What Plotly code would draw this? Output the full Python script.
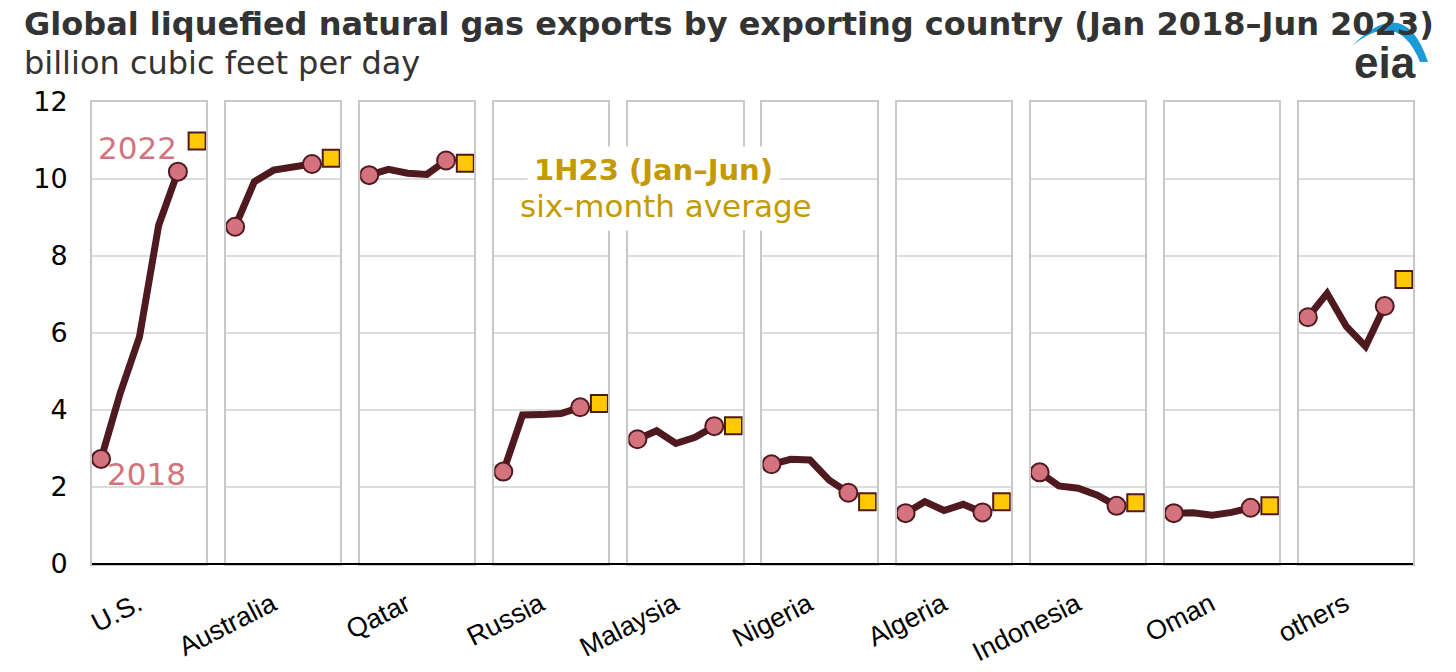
from plotly.subplots import make_subplots
import plotly.graph_objects as go

# --------------------- Data (billion cubic feet per day)
countries = ['U.S.', 'Australia', 'Qatar', 'Russia', 'Malaysia',
             'Nigeria', 'Algeria', 'Indonesia', 'Oman', 'others']
years = ['2018', '2019', '2020', '2021', '2022']

us = [2.73, 4.44, 5.90, 8.80, 10.19]
australia = [8.76, 9.93, 10.23, 10.32, 10.39]
qatar = [10.10, 10.25, 10.15, 10.12, 10.48]
russia = [2.40, 3.87, 3.88, 3.91, 4.07]
malaysia = [3.24, 3.46, 3.13, 3.29, 3.58]
nigeria = [2.59, 2.72, 2.70, 2.18, 1.85]
algeria = [1.32, 1.62, 1.39, 1.55, 1.34]
indonesia = [2.38, 2.03, 1.97, 1.79, 1.51]
oman = [1.32, 1.33, 1.27, 1.34, 1.46]
others = [6.41, 7.03, 6.17, 5.65, 6.70]

annual = [us, australia, qatar, russia, malaysia,
          nigeria, algeria, indonesia, oman, others]

# 1H23 (Jan-Jun) six-month average
h1_2023 = [10.99, 10.54, 10.41, 4.17, 3.59, 1.62, 1.62, 1.59, 1.51, 7.39]

# --------------------- Styles
line_color = '#4f1a1f'
pink = '#d4737e'
gold_fill = '#ffc800'
gold_text = '#c49a00'
panel_color = '#c8c8c8'
grid_color = '#dcdcdc'

n = len(countries)
gap = 0.0151

fig = make_subplots(rows=1, cols=n, shared_yaxes=True, horizontal_spacing=gap)

pos = list(range(len(years)))

for i in range(n):
    col = i + 1
    vals = annual[i]

    # Annual line
    fig.add_trace(go.Scatter(x=pos, y=vals, mode='lines',
                             line=dict(color=line_color, width=7),
                             hoverinfo='skip', showlegend=False),
                  row=1, col=col)

    # Circles at first and last year
    fig.add_trace(go.Scatter(x=[pos[0], pos[-1]], y=[vals[0], vals[-1]],
                             mode='markers',
                             marker=dict(symbol='circle', size=18, color=pink,
                                         line=dict(color=line_color, width=2)),
                             text=[years[0], years[-1]],
                             hovertemplate=countries[i] + ' %{text}: %{y}<extra></extra>',
                             showlegend=False),
                  row=1, col=col)

    # 1H23 square
    fig.add_trace(go.Scatter(x=[len(years)], y=[h1_2023[i]], mode='markers',
                             marker=dict(symbol='square', size=17, color=gold_fill,
                                         line=dict(color=line_color, width=2)),
                             hovertemplate=countries[i] + ' 1H23: %{y}<extra></extra>',
                             showlegend=False),
                  row=1, col=col)

    fig.update_xaxes(range=[-0.47, len(years) + 0.47],
                     tickvals=[2.5], ticktext=[countries[i]],
                     tickangle=-27, ticks='', ticklabelstandoff=12,
                     ticklabelshift=-11,
                     tickfont=dict(family='Liberation Sans', size=27, color='#000000'),
                     showgrid=False, zeroline=False, automargin=False,
                     showline=True, mirror=True, linecolor=panel_color, linewidth=2,
                     fixedrange=True, row=1, col=col)
    fig.update_yaxes(range=[0, 12], dtick=2, automargin=False,
                     showgrid=True, gridcolor=grid_color, gridwidth=1.5,
                     zeroline=False, showline=True, mirror=True,
                     linecolor=panel_color, linewidth=2,
                     fixedrange=True, row=1, col=col)

fig.update_yaxes(tickfont=dict(family='DejaVu Sans', size=27, color='#000000'),
                 ticks='', ticklabelstandoff=17, row=1, col=1)

# Black baseline across all panels
fig.add_shape(type='line', xref='paper', yref='paper', x0=0, x1=1, y0=0, y1=0,
              line=dict(color='#000000', width=2))


# Plot area on screen is 92..1413 x 102..564 px
def px_to_paper(px, py):
    return (px - 92) / 1321, (564 - py) / 462


# Year labels on the U.S. panel
fig.add_annotation(x=1.92, y=10.8, xref='x', yref='y', text='2022', showarrow=False,
                   font=dict(family='DejaVu Sans', size=31, color=pink))
fig.add_annotation(x=2.34, y=2.34, xref='x', yref='y', text='2018', showarrow=False,
                   font=dict(family='DejaVu Sans', size=31, color=pink))

# 1H23 label (two lines, white background)
ax, ay = px_to_paper(666, 206)
fig.add_annotation(x=ax, y=ay, xref='paper', yref='paper',
                   xanchor='center', yanchor='middle',
                   text='six-month average',
                   showarrow=False, bgcolor='#ffffff', borderpad=6,
                   font=dict(family='DejaVu Sans', size=31, color=gold_text))
bx, by = px_to_paper(653, 170)
fig.add_annotation(x=bx, y=by, xref='paper', yref='paper',
                   xanchor='center', yanchor='middle',
                   text='<b>1H23 (Jan–Jun)</b>',
                   showarrow=False, bgcolor='#ffffff', borderpad=6,
                   font=dict(family='DejaVu Sans', size=29, color=gold_text))

# Title and subtitle
tx, ty = px_to_paper(22, 24)
fig.add_annotation(x=tx, y=ty, xref='paper', yref='paper',
                   xanchor='left', yanchor='middle', showarrow=False,
                   text='<b>Global liquefied natural gas exports by exporting country (Jan 2018–Jun 2023)</b>',
                   font=dict(family='DejaVu Sans', size=32, color='#333333'))
sx, sy = px_to_paper(22, 63)
fig.add_annotation(x=sx, y=sy, xref='paper', yref='paper',
                   xanchor='left', yanchor='middle', showarrow=False,
                   text='billion cubic feet per day',
                   font=dict(family='DejaVu Sans', size=32, color='#333333'))

# EIA logo
arc = [(1352, 46), (1405, -8), (1428, 62), (1420, 62), (1398, 8), (1352, 46)]
p = [px_to_paper(a, b) for a, b in arc]
path = ('M {} {} Q {} {} {} {} L {} {} Q {} {} {} {} Z'
        .format(p[0][0], p[0][1], p[1][0], p[1][1], p[2][0], p[2][1],
                p[3][0], p[3][1], p[4][0], p[4][1], p[5][0], p[5][1]))
fig.add_shape(type='path', xref='paper', yref='paper', path=path,
              fillcolor='#1d9bd7', line=dict(width=0))
lx, ly = px_to_paper(1385, 62)
fig.add_annotation(x=lx, y=ly, xref='paper', yref='paper', text='<b>eia</b>',
                   xanchor='center', yanchor='middle', showarrow=False,
                   font=dict(family='Liberation Sans', size=44, color='#333333'))

# The page body adds an 8 px offset, so margins are set 8 px smaller on top/left
fig.update_layout(width=1456, height=672,
                  margin=dict(l=84, r=51, t=94, b=116),
                  plot_bgcolor='#ffffff', paper_bgcolor='#ffffff',
                  showlegend=False)

fig.write_html("out.html")
